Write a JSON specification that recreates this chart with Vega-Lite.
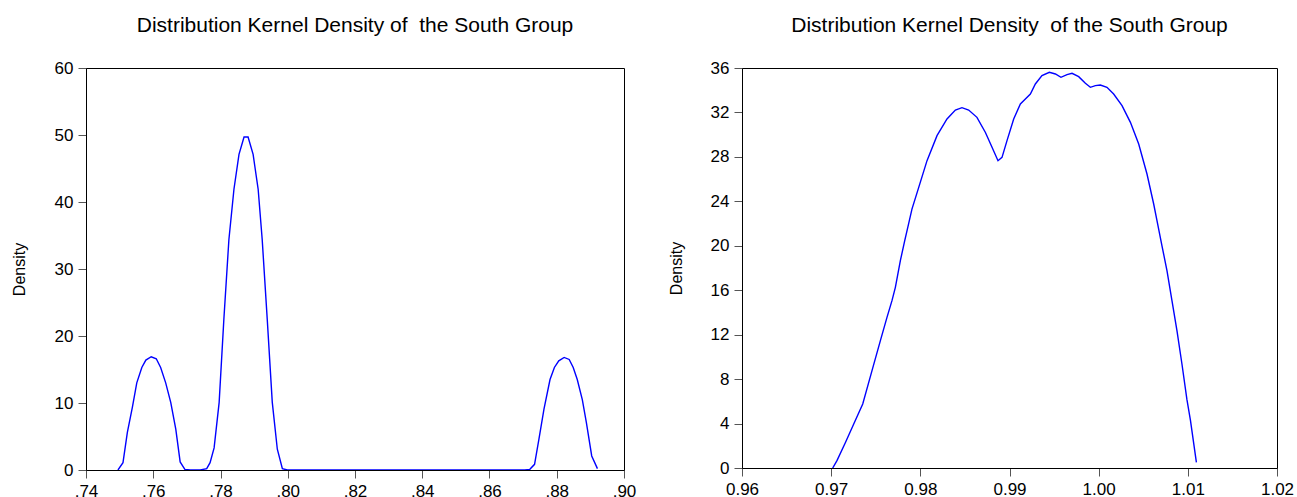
{
  "$schema": "https://vega.github.io/schema/vega-lite/v6.json",
  "padding": {"left": 10, "top": 14, "right": 10, "bottom": 0},
  "spacing": 30,
  "config": {
    "font": "Liberation Sans",
    "view": {"stroke": "#000000", "strokeWidth": 1},
    "axis": {
      "domainColor": "#000000",
      "domainWidth": 1,
      "tickColor": "#555555",
      "tickSize": 8,
      "labelPadding": 5,
      "labelFontSize": 17,
      "labelColor": "#000000",
      "grid": false,
      "titleFontSize": 16,
      "titleFontWeight": "normal",
      "titleColor": "#000000",
      "titlePadding": 27
    },
    "title": {"fontSize": 21, "fontWeight": "normal", "color": "#000000", "offset": 23, "anchor": "middle"}
  },
  "datasets": {
    "left": [
      {"x": 0.7495, "d": 0.0}, {"x": 0.7510, "d": 1.1}, {"x": 0.7523, "d": 5.6}, {"x": 0.7538, "d": 9.4},
      {"x": 0.7551, "d": 13.0}, {"x": 0.7566, "d": 15.3}, {"x": 0.7578, "d": 16.4}, {"x": 0.7594, "d": 16.9},
      {"x": 0.7609, "d": 16.6}, {"x": 0.7622, "d": 15.3}, {"x": 0.7637, "d": 13.0}, {"x": 0.7652, "d": 10.1},
      {"x": 0.7667, "d": 6.1}, {"x": 0.7680, "d": 1.2}, {"x": 0.7694, "d": 0.1}, {"x": 0.7710, "d": 0.0},
      {"x": 0.7740, "d": 0.0}, {"x": 0.7759, "d": 0.2}, {"x": 0.7769, "d": 1.1}, {"x": 0.7781, "d": 3.3},
      {"x": 0.7796, "d": 10.1}, {"x": 0.7810, "d": 22.5}, {"x": 0.7825, "d": 34.4}, {"x": 0.7840, "d": 41.9},
      {"x": 0.7855, "d": 47.1}, {"x": 0.7870, "d": 49.7}, {"x": 0.7882, "d": 49.7}, {"x": 0.7897, "d": 47.1},
      {"x": 0.7912, "d": 41.9}, {"x": 0.7924, "d": 34.4}, {"x": 0.7939, "d": 22.5}, {"x": 0.7954, "d": 10.1},
      {"x": 0.7969, "d": 3.1}, {"x": 0.7984, "d": 0.2}, {"x": 0.7999, "d": 0.0}, {"x": 0.8200, "d": 0.0},
      {"x": 0.8400, "d": 0.0}, {"x": 0.8600, "d": 0.0}, {"x": 0.8705, "d": 0.0}, {"x": 0.8720, "d": 0.1},
      {"x": 0.8734, "d": 0.85}, {"x": 0.8747, "d": 4.6}, {"x": 0.8762, "d": 9.1}, {"x": 0.8780, "d": 13.5},
      {"x": 0.8793, "d": 15.3}, {"x": 0.8806, "d": 16.3}, {"x": 0.8822, "d": 16.8}, {"x": 0.8837, "d": 16.5},
      {"x": 0.8849, "d": 15.3}, {"x": 0.8861, "d": 13.5}, {"x": 0.8876, "d": 10.5}, {"x": 0.8888, "d": 7.1},
      {"x": 0.8904, "d": 2.1}, {"x": 0.8921, "d": 0.2}
    ],
    "right": [
      {"x": 0.97017, "d": 0.0}, {"x": 0.97065, "d": 0.66}, {"x": 0.97160, "d": 2.3}, {"x": 0.97253, "d": 3.96},
      {"x": 0.97354, "d": 5.76}, {"x": 0.97458, "d": 8.76}, {"x": 0.97552, "d": 11.46}, {"x": 0.97626, "d": 13.56},
      {"x": 0.97682, "d": 15.06}, {"x": 0.97720, "d": 16.26}, {"x": 0.97776, "d": 18.66}, {"x": 0.97825, "d": 20.46},
      {"x": 0.97869, "d": 22.0}, {"x": 0.97906, "d": 23.3}, {"x": 0.97982, "d": 25.26}, {"x": 0.98075, "d": 27.66},
      {"x": 0.98187, "d": 29.91}, {"x": 0.98299, "d": 31.41}, {"x": 0.98393, "d": 32.22}, {"x": 0.98467, "d": 32.43},
      {"x": 0.98542, "d": 32.22}, {"x": 0.98635, "d": 31.56}, {"x": 0.98730, "d": 30.2}, {"x": 0.98804, "d": 28.86},
      {"x": 0.98871, "d": 27.66}, {"x": 0.98916, "d": 27.96}, {"x": 0.98972, "d": 29.46}, {"x": 0.99047, "d": 31.41},
      {"x": 0.99122, "d": 32.76}, {"x": 0.99178, "d": 33.21}, {"x": 0.99234, "d": 33.66}, {"x": 0.99290, "d": 34.56},
      {"x": 0.99364, "d": 35.31}, {"x": 0.99447, "d": 35.61}, {"x": 0.99515, "d": 35.46}, {"x": 0.99577, "d": 35.16},
      {"x": 0.99645, "d": 35.4}, {"x": 0.99701, "d": 35.52}, {"x": 0.99776, "d": 35.22}, {"x": 0.99851, "d": 34.62},
      {"x": 0.99907, "d": 34.26}, {"x": 0.99963, "d": 34.41}, {"x": 1.00019, "d": 34.47}, {"x": 1.00093, "d": 34.26},
      {"x": 1.00168, "d": 33.66}, {"x": 1.00262, "d": 32.61}, {"x": 1.00356, "d": 31.11}, {"x": 1.00449, "d": 29.16},
      {"x": 1.00542, "d": 26.46}, {"x": 1.00617, "d": 23.76}, {"x": 1.00654, "d": 22.26}, {"x": 1.00710, "d": 20.0},
      {"x": 1.00766, "d": 17.76}, {"x": 1.00822, "d": 15.06}, {"x": 1.00878, "d": 12.36}, {"x": 1.00934, "d": 9.36},
      {"x": 1.00990, "d": 6.15}, {"x": 1.01029, "d": 4.3}, {"x": 1.01096, "d": 0.5}
    ]
  },
  "hconcat": [
    {
      "title": "Distribution Kernel Density of\u00a0 the South Group",
      "width": 538,
      "height": 402,
      "data": {"name": "left"},
      "mark": {"type": "line", "color": "#0000FF", "strokeWidth": 1.4, "clip": true},
      "encoding": {
        "x": {
          "field": "x", "type": "quantitative", "title": null,
          "scale": {"domain": [0.74, 0.90], "nice": false, "zero": false},
          "axis": {"values": [0.74, 0.76, 0.78, 0.80, 0.82, 0.84, 0.86, 0.88, 0.90],
                   "labelExpr": "replace(format(datum.value, '.2f'), '0.', '.')", "labelFlush": false}
        },
        "y": {
          "field": "d", "type": "quantitative", "title": "Density",
          "scale": {"domain": [0, 60], "nice": false},
          "axis": {"values": [0, 10, 20, 30, 40, 50, 60], "labelFlush": false}
        }
      }
    },
    {
      "title": "Distribution Kernel Density\u00a0 of the South Group",
      "width": 535,
      "height": 400,
      "data": {"name": "right"},
      "mark": {"type": "line", "color": "#0000FF", "strokeWidth": 1.4, "clip": true},
      "encoding": {
        "x": {
          "field": "x", "type": "quantitative", "title": null,
          "scale": {"domain": [0.96, 1.02], "nice": false, "zero": false},
          "axis": {"values": [0.96, 0.97, 0.98, 0.99, 1.00, 1.01, 1.02], "format": ".2f", "labelFlush": false}
        },
        "y": {
          "field": "d", "type": "quantitative", "title": "Density",
          "scale": {"domain": [0, 36], "nice": false},
          "axis": {"values": [0, 4, 8, 12, 16, 20, 24, 28, 32, 36], "labelFlush": false, "titlePadding": 26}
        }
      }
    }
  ]
}
